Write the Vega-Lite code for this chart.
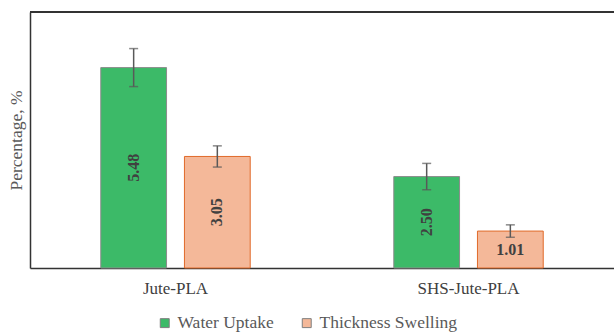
{
  "$schema": "https://vega.github.io/schema/vega-lite/v6.json",
  "width": 584,
  "height": 256,
  "autosize": {"type": "none"},
  "padding": {"left": 30, "top": 12, "right": 0, "bottom": 65},
  "background": "white",
  "config": {
    "font": "Liberation Serif",
    "view": {"stroke": null},
    "legend": {"labelFont": "serif", "labelFontSize": 17.5},
    "axis": {"labelFont": "Liberation Serif", "titleFont": "Liberation Serif"}
  },
  "data": {
    "values": [
      {"sample": "Jute-PLA", "series": "Water Uptake", "value": 5.48, "err": 0.52},
      {"sample": "Jute-PLA", "series": "Thickness Swelling", "value": 3.05, "err": 0.29},
      {"sample": "SHS-Jute-PLA", "series": "Water Uptake", "value": 2.50, "err": 0.36},
      {"sample": "SHS-Jute-PLA", "series": "Thickness Swelling", "value": 1.01, "err": 0.17}
    ]
  },
  "transform": [
    {"calculate": "datum.value - datum.err", "as": "lo"},
    {"calculate": "datum.value + datum.err", "as": "hi"},
    {"calculate": "datum.value / 2", "as": "mid"}
  ],
  "layer": [
    {
      "mark": {"type": "bar", "strokeWidth": 1},
      "encoding": {
        "x": {
          "field": "sample", "type": "nominal", "sort": ["Jute-PLA", "SHS-Jute-PLA"],
          "scale": {"paddingInner": 0.49, "paddingOuter": 0.2415},
          "axis": {"title": null, "labelAngle": 0, "ticks": false, "labelFontSize": 17, "labelColor": "#404040", "labelPadding": 12, "domainColor": "#333333", "domainWidth": 1.5}
        },
        "xOffset": {"field": "series", "type": "nominal", "sort": ["Water Uptake", "Thickness Swelling"], "scale": {"paddingInner": 0.214, "paddingOuter": 0}},
        "y": {"field": "value", "type": "quantitative", "scale": {"domain": [0, 7], "nice": false},
          "axis": {"title": "Percentage, %", "labels": false, "ticks": false, "grid": false, "domainColor": "#333333", "domainWidth": 1.5, "titleFontSize": 17.5, "titleFontWeight": "normal", "titleColor": "#595959", "titlePadding": 5}},
        "fill": {"field": "series", "type": "nominal", "sort": ["Water Uptake", "Thickness Swelling"],
          "scale": {"domain": ["Water Uptake", "Thickness Swelling"], "range": ["#3cba68", "#f4b899"]},
          "legend": {"title": null, "orient": "none", "legendX": 126, "legendY": 302, "direction": "horizontal", "symbolType": "square", "symbolSize": 80, "symbolStrokeWidth": 1, "symbolStrokeColor": "#7f7f7f", "labelFontSize": 17.5, "labelColor": "#595959", "columnPadding": 24, "labelFont": "serif"}},
        "stroke": {"condition": {"test": "datum.series === 'Water Uptake'", "value": "#8c8c8c"}, "value": "#e06a2a"}
      }
    },
    {
      "mark": {"type": "rule", "color": "#595959", "strokeWidth": 1.5},
      "encoding": {
        "x": {"field": "sample", "type": "nominal", "sort": ["Jute-PLA", "SHS-Jute-PLA"]},
        "xOffset": {"field": "series", "type": "nominal", "sort": ["Water Uptake", "Thickness Swelling"]},
        "y": {"field": "lo", "type": "quantitative"}, "y2": {"field": "hi"}}
    },
    {
      "mark": {"type": "tick", "color": "#595959", "size": 9, "thickness": 1.5},
      "encoding": {
        "x": {"field": "sample", "type": "nominal", "sort": ["Jute-PLA", "SHS-Jute-PLA"]},
        "xOffset": {"field": "series", "type": "nominal", "sort": ["Water Uptake", "Thickness Swelling"]},
        "y": {"field": "lo", "type": "quantitative"}}
    },
    {
      "mark": {"type": "tick", "color": "#595959", "size": 9, "thickness": 1.5},
      "encoding": {
        "x": {"field": "sample", "type": "nominal", "sort": ["Jute-PLA", "SHS-Jute-PLA"]},
        "xOffset": {"field": "series", "type": "nominal", "sort": ["Water Uptake", "Thickness Swelling"]},
        "y": {"field": "hi", "type": "quantitative"}}
    },
    {
      "transform": [{"filter": "datum.value >= 2"}],
      "mark": {"type": "text", "angle": 270, "font": "Liberation Serif", "fontSize": 16, "fontWeight": "bold", "color": "#404040", "baseline": "middle", "align": "center"},
      "encoding": {
        "x": {"field": "sample", "type": "nominal", "sort": ["Jute-PLA", "SHS-Jute-PLA"]},
        "xOffset": {"field": "series", "type": "nominal", "sort": ["Water Uptake", "Thickness Swelling"]},
        "y": {"field": "mid", "type": "quantitative"}, "text": {"field": "value", "type": "quantitative", "format": ".2f"}}
    },
    {
      "transform": [{"filter": "datum.value < 2"}],
      "mark": {"type": "text", "font": "Liberation Serif", "fontSize": 16, "fontWeight": "bold", "color": "#404040", "baseline": "middle", "align": "center"},
      "encoding": {
        "x": {"field": "sample", "type": "nominal", "sort": ["Jute-PLA", "SHS-Jute-PLA"]},
        "xOffset": {"field": "series", "type": "nominal", "sort": ["Water Uptake", "Thickness Swelling"]},
        "y": {"field": "mid", "type": "quantitative"}, "text": {"field": "value", "type": "quantitative", "format": ".2f"}}
    },
    {
      "mark": {"type": "rule", "color": "#333333", "strokeWidth": 1.5},
      "encoding": {"y": {"datum": 7}}
    }
  ]
}
